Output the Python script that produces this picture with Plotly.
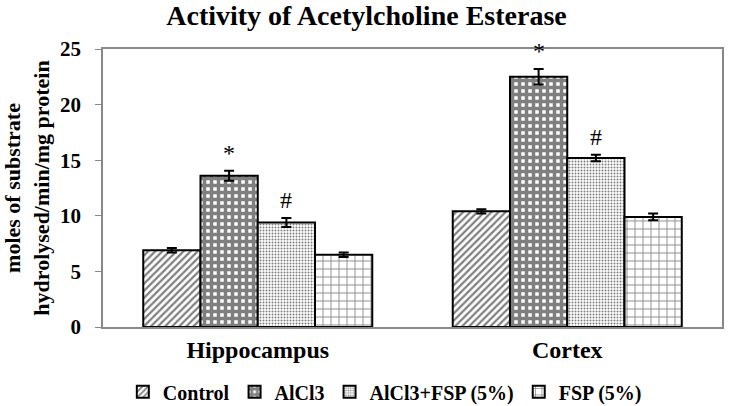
import plotly.graph_objects as go

regions = ["Hippocampus", "Cortex"]
groups = ["Control", "AlCl3", "AlCl3+FSP (5%)", "FSP (5%)"]
control = [6.9, 10.4]
alcl3 = [13.6, 22.5]
alcl3_fsp = [9.4, 15.2]
fsp = [6.5, 9.9]
control_err = [0.2, 0.2]
alcl3_err = [0.45, 0.7]
alcl3_fsp_err = [0.4, 0.3]
fsp_err = [0.2, 0.3]
marks = {"AlCl3": "*", "AlCl3+FSP (5%)": "#"}

values = [control, alcl3, alcl3_fsp, fsp]
errors = [control_err, alcl3_err, alcl3_fsp_err, fsp_err]
patterns = [
    dict(shape="/", fgcolor="black", bgcolor="white", size=5, solidity=0.45),
    dict(shape="+", fgcolor="black", bgcolor="white", size=7, solidity=0.75),
    dict(shape=".", fgcolor="black", bgcolor="white", size=3, solidity=0.35),
    dict(shape="+", fgcolor="black", bgcolor="white", size=8, solidity=0.2),
]
serif = "Liberation Serif"

fig = go.Figure()
for name, v, e, p in zip(groups, values, errors, patterns):
    fig.add_trace(go.Bar(
        x=regions, y=v, name="<b>" + name + "</b>",
        marker=dict(color="white", pattern=p, line=dict(color="black", width=2)),
        error_y=dict(type="data", array=e, color="black", thickness=2, width=5),
    ))

bargap = 0.26
n = len(groups)
bw = (1 - bargap) / n
annotations = []
for gi, name in enumerate(groups):
    if name not in marks:
        continue
    for ci in range(len(regions)):
        xpos = ci - (1 - bargap) / 2 + bw * (gi + 0.5)
        top = values[gi][ci] + errors[gi][ci]
        annotations.append(dict(
            x=xpos, y=top, xref="x", yref="y", text=marks[name],
            showarrow=False, yanchor="bottom", yshift=3,
            font=dict(family=serif, size=24, color="black"),
        ))

fig.update_layout(
    width=733, height=406,
    margin=dict(l=103, r=11, t=49, b=79),
    paper_bgcolor="white", plot_bgcolor="white",
    barmode="group", bargap=bargap, bargroupgap=0,
    title=dict(text="<b>Activity of Acetylcholine Esterase</b>", x=0.5, xanchor="center",
               y=0.962, yanchor="middle",
               font=dict(family=serif, size=28, color="black")),
    font=dict(family=serif, color="black"),
    legend=dict(orientation="h", xref="container", x=0.525, xanchor="center",
                yref="container", y=0.035, yanchor="middle",
                font=dict(family=serif, size=20, color="black"),
                itemwidth=30, traceorder="normal"),
    annotations=annotations,
)
fig.update_xaxes(
    showline=True, linecolor="#888", linewidth=1.5, mirror=True, automargin=False,
    tickfont=dict(family=serif, size=24, color="black"),
    tickprefix="<b>", ticksuffix="</b>", ticks="",
)
fig.update_yaxes(
    range=[0, 25], dtick=5, showgrid=False, zeroline=False, automargin=False,
    showline=True, linecolor="#888", linewidth=1.5, mirror=True,
    ticks="outside", ticklen=6, tickcolor="#888", ticklabelstandoff=10,
    tickfont=dict(family=serif, size=21, color="black"),
    tickprefix="<b>", ticksuffix="</b>",
    title=dict(text="<b>moles of substrate<br>hydrolysed/min/mg protein</b>",
               font=dict(family=serif, size=22, color="black"), standoff=13),
)

fig.write_html("out.html", config={"displayModeBar": False},
               post_script="document.body.style.margin='0';")
